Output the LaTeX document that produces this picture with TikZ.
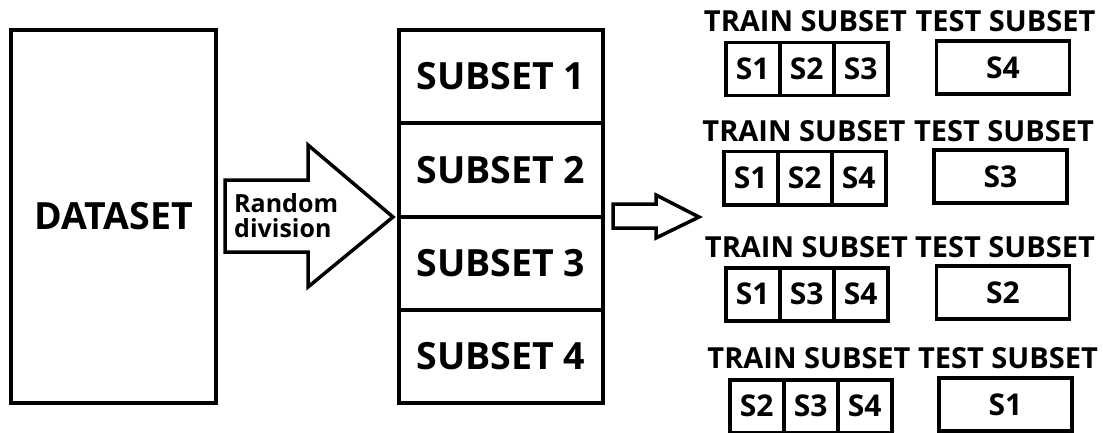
\documentclass[tikz,border=0pt]{standalone}
\usepackage{fontspec}
\setmainfont{Open Sans}
\begin{document}
\begin{tikzpicture}[x=1pt,y=-1pt,
  bigbox/.style={draw,line width=4pt,inner sep=0pt,font=\fontsize{37.5}{40}\selectfont\bfseries},
  cell/.style={draw,line width=3.5pt,inner sep=0pt,minimum height=53pt,font=\fontsize{30}{32}\selectfont\bfseries},
  traincell/.style={cell,minimum width=54pt},
  testcell/.style={cell,minimum width=133pt},
  head/.style={inner sep=0pt,anchor=base,font=\fontsize{29}{30}\selectfont\bfseries},
  blockarrow/.style={draw,line width=3.5pt,line join=miter,fill=white}]
\useasboundingbox (0,0) rectangle (1103,433);

% whole data set
\node[bigbox,minimum width=205pt,minimum height=373pt] (dataset) at (113.5,216.5) {DATASET};

% the four random subsets
\foreach \i/\y in {1/76.6,2/170,3/263.3,4/356.6}
  \node[bigbox,minimum width=204pt,minimum height=93.3pt] (sub\i) at (501,\y) {SUBSET \i};

% block arrows
\draw[blockarrow] (225,180) -- (308,180) -- (308,145) -- (393,217) -- (308,287)
  -- (308,252) -- (225,252) -- cycle;
\node[inner sep=0pt,anchor=west,align=left,
  font=\fontsize{25}{25}\selectfont\bfseries] (rd) at (234,215.5) {Random\\division};
\draw[blockarrow] (613,204) -- (656,204) -- (656,195) -- (699,217) -- (656,238)
  -- (656,228) -- (613,228) -- cycle;

% the four train/test splits
\foreach \r/\top/\tx/\ex/\hx/\hy/\ttx/\a/\b/\c/\t in {
  1/41/724/1003/805.5/32/1005.5/1/2/3/4,
  2/150/722/1000.5/804/142/1004/1/2/4/3,
  3/266/724/1003/806.5/257/1005/1/3/4/2,
  4/378/728/1005.5/809/368/1008/2/3/4/1}{
  \node[head] (train\r) at (\hx,\hy) {TRAIN SUBSET};
  \node[head] (test\r) at (\ttx,\hy) {TEST SUBSET};
  \node[traincell,anchor=north west] (c\r a) at (\tx,\top) {S\a};
  \node[traincell,anchor=north west] (c\r b) at (\tx+54,\top) {S\b};
  \node[traincell,anchor=north west] (c\r c) at (\tx+108,\top) {S\c};
  \node[testcell] (t\r) at (\ex,\top+26.5) {S\t};
}
\end{tikzpicture}
\end{document}
